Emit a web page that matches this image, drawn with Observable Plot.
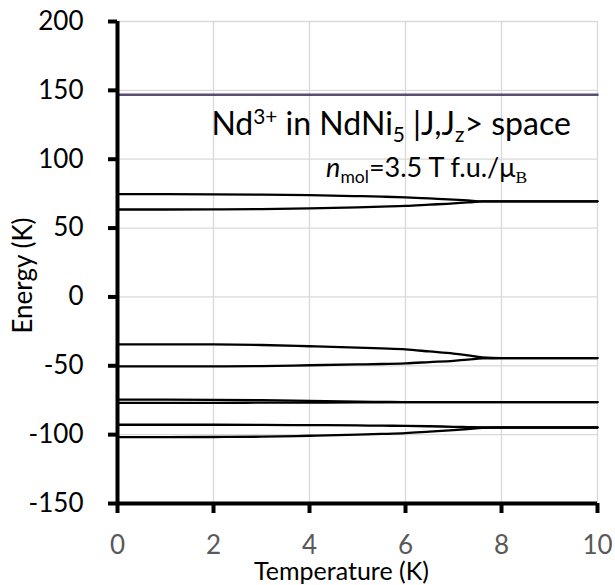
<!DOCTYPE html>
<html>
<head>
<meta charset="utf-8">
<script src="https://cdn.jsdelivr.net/npm/d3@7"></script>
<script src="https://cdn.jsdelivr.net/npm/@observablehq/plot@0.6"></script>
<style>
html, body { margin: 0; padding: 0; background: #fff; }
#chart { width: 615px; height: 585px; }
</style>
</head>
<body>
<div id="chart"></div>
<script>
// Temperatures (K) at which the levels were read
const temperatures = [0, 1, 2, 3, 4, 5, 5.5, 6, 6.5, 7, 7.3, 7.6, 8, 10];

// Energy levels (K)
const levelTop = [146.8, 146.8, 146.8, 146.8, 146.8, 146.8, 146.8, 146.8, 146.8, 146.8, 146.8, 146.8, 146.8, 146.8];
const levelA1 = [74.6, 74.6, 74.5, 74.3, 73.9, 73.2, 72.8, 72.3, 71.5, 70.7, 70.1, 69.4, 69.4, 69.4];
const levelA2 = [63.5, 63.5, 63.6, 63.8, 64.3, 65.1, 65.6, 66.1, 67.0, 67.9, 68.6, 69.4, 69.4, 69.4];
const levelB1 = [-34.4, -34.4, -34.5, -34.9, -35.8, -36.8, -37.4, -38.1, -39.6, -41.1, -42.4, -44.0, -44.4, -44.4];
const levelB2 = [-50.5, -50.5, -50.4, -50.2, -49.6, -49.0, -48.7, -48.2, -47.3, -46.4, -45.6, -44.6, -44.4, -44.4];
const levelC1 = [-74.6, -74.6, -74.7, -75.0, -75.5, -76.0, -76.2, -76.4, -76.4, -76.4, -76.4, -76.4, -76.4, -76.4];
const levelC2 = [-76.9, -76.9, -76.9, -76.8, -76.7, -76.6, -76.5, -76.4, -76.4, -76.4, -76.4, -76.4, -76.4, -76.4];
const levelD1 = [-92.8, -92.8, -92.8, -92.9, -93.1, -93.3, -93.5, -93.6, -93.9, -94.3, -94.5, -94.7, -94.8, -94.8];
const levelD2 = [-101.8, -101.8, -101.7, -101.5, -100.8, -100.0, -99.5, -98.9, -97.8, -96.7, -95.9, -95.0, -94.8, -94.8];

// Axis ticks
const xTicks = [0, 2, 4, 6, 8, 10];
const yTicks = [-150, -100, -50, 0, 50, 100, 150, 200];

// Texts
const xLabel = "Temperature (K)";
const yLabel = "Energy (K)";
const titleText = "Nd3+ in NdNi5 |J,Jz> space";
const noteText = "nmol=3.5 T f.u./μB";

const blackLevels = [levelA1, levelA2, levelB1, levelB2, levelC1, levelC2, levelD1, levelD2];
const rows = [];
blackLevels.forEach((vals, i) => vals.forEach((e, j) => rows.push({T: temperatures[j], E: e, level: "L" + i})));
const topRows = temperatures.map((t, j) => ({T: t, E: levelTop[j]}));

const FONT = "Lato, 'Open Sans', sans-serif";

const plot = Plot.plot({
  width: 615,
  height: 585,
  marginLeft: 117,
  marginRight: 18,
  marginTop: 21,
  marginBottom: 82,
  style: {fontFamily: FONT, background: "#fff", overflow: "visible", color: "#000"},
  x: {domain: [0, 10]},
  y: {domain: [-150, 200]},
  marks: [
    Plot.ruleY(yTicks.filter(d => d > -150), {stroke: "#d9d9d9", strokeWidth: 1.3}),
    Plot.ruleX(xTicks.filter(d => d > 0), {stroke: "#d9d9d9", strokeWidth: 1.3}),
    Plot.line(topRows, {x: "T", y: "E", stroke: "#5b4c72", strokeWidth: 2.5}),
    Plot.line(rows, {x: "T", y: "E", z: "level", stroke: "#000", strokeWidth: 2.3, curve: "monotone-x"}),
    Plot.ruleX([0], {stroke: "#000", strokeWidth: 4}),
    Plot.ruleY([-150], {stroke: "#000", strokeWidth: 4}),
    Plot.axisY({ticks: yTicks, tickSize: 9, tickPadding: 25, strokeWidth: 4, fontSize: 26, fill: "#000",
                tickFormat: d => String(d), label: null}),
    Plot.axisX({ticks: xTicks, tickSize: 10, tickPadding: 22, strokeWidth: 4, fontSize: 26, fill: "#595959",
                tickFormat: d => String(d), label: null}),
    Plot.text([yLabel], {text: d => d, frameAnchor: "left", textAnchor: "middle", lineAnchor: "middle",
                         rotate: -90, dx: -94, dy: 13, fontSize: 26, fill: "#000"}),
    Plot.text([xLabel], {text: d => d, frameAnchor: "bottom", textAnchor: "middle", lineAnchor: "bottom",
                         dx: -16, dy: 76, fontSize: 25, fill: "#000"}),
    Plot.text([titleText], {text: d => d, x: () => 5.7, y: () => 117.5, lineAnchor: "bottom", textAnchor: "middle", fontSize: 32, fill: "#000"}),
    Plot.text([noteText], {text: d => d, x: () => 6.44, y: () => 86.9, lineAnchor: "bottom", textAnchor: "middle", fontSize: 27, fill: "#000"})
  ]
});

document.getElementById("chart").appendChild(plot);

// Rich text (super/subscripts) for the annotations
function rich(str, base, parts) {
  d3.select(plot).selectAll("text").filter(function () { return this.textContent === str; }).each(function () {
    const t = d3.select(this);
    t.text(null);
    let shift = 0;
    for (const p of parts) {
      const target = p.sup ? -0.36 * base : p.sub ? 0.2 * base : 0;
      const ts = t.append("tspan").text(p.t).attr("dy", (target - shift) + "px");
      if (p.sup || p.sub) ts.attr("font-size", (base * 0.65) + "px");
      if (p.italic) ts.attr("font-style", "italic");
      if (p.serif) ts.attr("font-family", "'Liberation Serif', 'DejaVu Serif', serif");
      shift = target;
    }
  });
}
rich(titleText, 32, [
  {t: "Nd"}, {t: "3+", sup: true}, {t: " in NdNi"}, {t: "5", sub: true},
  {t: " |J,J"}, {t: "z", sub: true}, {t: "> space"}
]);
rich(noteText, 27, [
  {t: "n", italic: true}, {t: "mol", sub: true}, {t: "=3.5 T f.u./μ"}, {t: "B", sub: true, serif: true}
]);
</script>
</body>
</html>
